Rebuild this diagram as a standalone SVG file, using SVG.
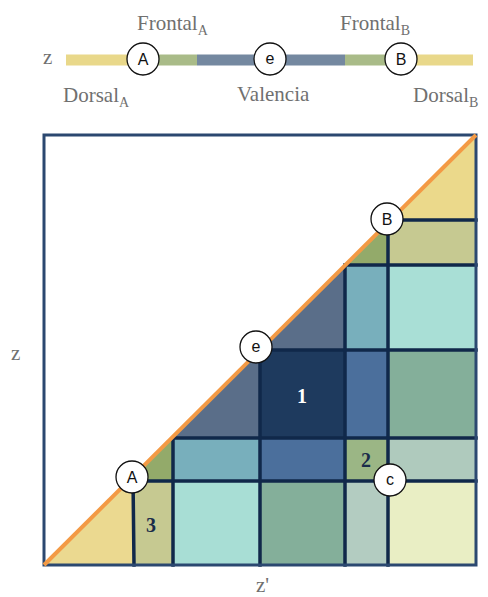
<svg xmlns="http://www.w3.org/2000/svg" width="488" height="597" viewBox="0 0 488 597">
<style>
.lbl{font-family:"Liberation Serif","Times New Roman",serif;fill:#707070;font-size:21px}
.sub{font-size:14px}
.cir{fill:#fff;stroke:#111;stroke-width:1.3}
.ct{font-family:"Liberation Sans",Arial,sans-serif;font-size:16px;fill:#111;text-anchor:middle}
.num{font-family:"Liberation Serif","Times New Roman",serif;font-weight:bold;font-size:20px;text-anchor:middle}
.grid{stroke:#10284a;stroke-width:3.5;fill:none;stroke-linecap:square}
</style>
<rect width="488" height="597" fill="#fff"/>
<g id="bar">
<rect x="66" y="54.5" width="77" height="11" fill="#E9D88A"/>
<rect x="143" y="54.5" width="54" height="11" fill="#A9BB88"/>
<rect x="197" y="54.5" width="148" height="11" fill="#7488A0"/>
<rect x="345" y="54.5" width="56" height="11" fill="#A9BB88"/>
<rect x="401" y="54.5" width="72" height="11" fill="#E9D88A"/>
</g>
<g id="top-labels">
<text class="lbl" x="43" y="64">z</text>
<text class="lbl" x="137" y="30">Frontal<tspan class="sub" dy="5">A</tspan></text>
<text class="lbl" x="340" y="30">Frontal<tspan class="sub" dy="5">B</tspan></text>
<text class="lbl" x="63" y="102">Dorsal<tspan class="sub" dy="5">A</tspan></text>
<text class="lbl" x="237" y="101">Valencia</text>
<text class="lbl" x="413" y="102">Dorsal<tspan class="sub" dy="5">B</tspan></text>
</g>
<g id="top-A"><circle class="cir" cx="143" cy="59" r="16"/><text class="ct" x="143" y="65">A</text></g>
<g id="top-e"><circle class="cir" cx="270" cy="59" r="16"/><text class="ct" x="270" y="64">e</text></g>
<g id="top-B"><circle class="cir" cx="401" cy="59" r="16"/><text class="ct" x="401" y="65">B</text></g>
<g id="cells">
<polygon points="44,565 133,476.4 133,565" fill="#EBD990"/>
<rect x="133" y="481" width="40" height="84" fill="#C6C991"/>
<polygon points="133,476.4 173,436.6 173,481 133,481" fill="#93AA6A"/>
<polygon points="173,436.6 260,350 260,438 173,438" fill="#5A6E89"/>
<rect x="260" y="350" width="85" height="88" fill="#1E3A5E"/>
<polygon points="260,350 345,265.4 345,350" fill="#5A6E89"/>
<polygon points="345,265.4 388,222.6 388,265 345,265" fill="#93AA6A"/>
<polygon points="388,222.6 476,135 476,220 388,220" fill="#EBD98B"/>
<rect x="388" y="220" width="88" height="45" fill="#C6C991"/>
<rect x="345" y="265" width="43" height="85" fill="#78AFBC"/>
<rect x="388" y="265" width="88" height="85" fill="#A9DFD6"/>
<rect x="345" y="350" width="43" height="88" fill="#4B6F9C"/>
<rect x="388" y="350" width="88" height="88" fill="#84AF9A"/>
<rect x="173" y="438" width="87" height="43" fill="#78AFBC"/>
<rect x="260" y="438" width="85" height="43" fill="#4B6F9C"/>
<rect x="345" y="438" width="43" height="43" fill="#9BB685"/>
<rect x="388" y="438" width="88" height="43" fill="#AFCABD"/>
<rect x="173" y="481" width="87" height="84" fill="#A8DED5"/>
<rect x="260" y="481" width="85" height="84" fill="#84AF9A"/>
<rect x="345" y="481" width="43" height="84" fill="#B3CCC1"/>
<rect x="388" y="481" width="88" height="84" fill="#E9EEC4"/>
</g>
<g id="connectors">
<path class="grid" d="M388,220H476 M345,265H476 M260,350H476 M173,438H476 M133,481H476 M133,477L134,565 M173,438V565 M260,350V565 M345,265V565 M388,220V565"/>
<rect x="44" y="135" width="432" height="430" fill="none" stroke="#2B4870" stroke-width="3"/>
<line x1="44" y1="565" x2="476" y2="135" stroke="#F39A45" stroke-width="4"/>
</g>
<g id="nums">
<text class="num" x="302" y="403" fill="#fff">1</text>
<text class="num" x="366" y="467" fill="#1a2c4a">2</text>
<text class="num" x="151" y="532" fill="#1a2c4a">3</text>
</g>
<g id="node-A"><circle class="cir" cx="132" cy="477" r="16"/><text class="ct" x="132" y="483">A</text></g>
<g id="node-e"><circle class="cir" cx="256" cy="347" r="16"/><text class="ct" x="256" y="352">e</text></g>
<g id="node-B"><circle class="cir" cx="387" cy="219" r="16"/><text class="ct" x="387" y="225">B</text></g>
<g id="node-c"><circle class="cir" cx="390" cy="480" r="16"/><text class="ct" x="390" y="485">c</text></g>
<g id="axis-labels">
<text class="lbl" x="11" y="360">z</text>
<text class="lbl" x="256" y="592">z'</text>
</g>
</svg>
